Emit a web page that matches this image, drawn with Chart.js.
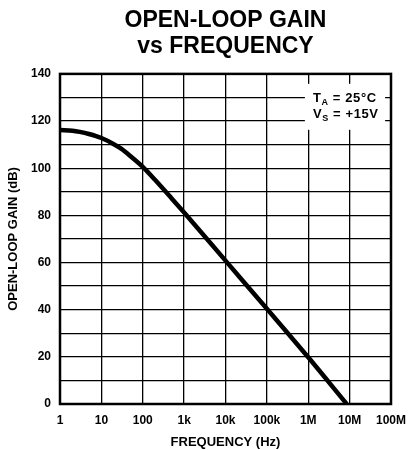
<!DOCTYPE html>
<html>
<head>
<meta charset="utf-8">
<script src="https://cdn.jsdelivr.net/npm/chart.js@4.4.1/dist/chart.umd.min.js"></script>
<style>
  body { margin: 0; background: #fff; }
</style>
</head>
<body>
<canvas id="gainChart" width="410" height="450"></canvas>
<script>
// values
const freqHz = [1, 2, 3, 5, 10, 20, 30, 50, 100, 200, 500, 1e3, 1e4, 1e5, 1e6, 8.5e6];
const gainDb = [116.2, 115.9, 115.4, 114.5, 112.8, 110.2, 108.3, 105.2, 100.6, 95, 87.2, 81.2, 60.8, 40.4, 19.8, 0];

const freqTicks = [1, 10, 100, 1e3, 1e4, 1e5, 1e6, 1e7, 1e8];
const freqLabels = ["1", "10", "100", "1k", "10k", "100k", "1M", "10M", "100M"];
const gainMin = 0;
const gainMax = 140;
const gainStep = 10;
const gainLabelStep = 20;

const noteLines = [
    { main: "T", sub: "A", rest: " = 25°C" },
    { main: "V", sub: "S", rest: " = +15V" }
];

const FONT = "'Liberation Sans', Arial, sans-serif";

// white box with test conditions, top right of plot
const notePlugin = {
    id: "note",
    afterDatasetsDraw(chart) {
        const ctx = chart.ctx;
        const x = chart.scales.x;
        const y = chart.scales.y;
        const left = x.getPixelForValue(8.3e5);
        const right = x.getPixelForValue(7.2e7);
        const top = y.getPixelForValue(135.8);
        const bottom = y.getPixelForValue(116.3);
        ctx.save();
        ctx.fillStyle = "#fff";
        ctx.fillRect(left, top, right - left, bottom - top);
        ctx.fillStyle = "#000";
        ctx.textBaseline = "alphabetic";
        ctx.letterSpacing = "0.6px";
        const tx = x.getPixelForValue(1.3e6);
        noteLines.forEach((ln, i) => {
            const by = y.getPixelForValue(i === 0 ? 128 : 121.1);
            let cx = tx;
            ctx.font = "bold 13px " + FONT;
            ctx.fillText(ln.main, cx, by);
            cx += ctx.measureText(ln.main).width;
            ctx.font = "bold 9px " + FONT;
            ctx.fillText(ln.sub, cx, by + 3);
            cx += ctx.measureText(ln.sub).width;
            ctx.font = "bold 13px " + FONT;
            ctx.fillText(ln.rest, cx, by);
        });
        ctx.restore();
    }
};

// heavy frame round the plot
const framePlugin = {
    id: "frame",
    afterDraw(chart) {
        const a = chart.chartArea;
        const ctx = chart.ctx;
        ctx.save();
        ctx.strokeStyle = "#000";
        ctx.lineWidth = 2.5;
        ctx.strokeRect(a.left, a.top, a.right - a.left, a.bottom - a.top);
        ctx.restore();
    }
};

const chart = new Chart(document.getElementById("gainChart"), {
    type: "line",
    data: {
        datasets: [{
            data: freqHz.map((f, i) => ({ x: f, y: gainDb[i] })),
            borderColor: "#000",
            borderWidth: 4.5,
            pointRadius: 0,
            cubicInterpolationMode: "monotone",
            fill: false
        }]
    },
    options: {
        responsive: false,
        animation: false,
        layout: { padding: { left: 0, right: 19, top: 0, bottom: 0 } },
        plugins: {
            legend: { display: false },
            tooltip: { enabled: false },
            title: {
                display: true,
                text: ["OPEN-LOOP GAIN", "vs FREQUENCY"],
                color: "#000",
                fullSize: false,
                font: { family: FONT, size: 23, weight: "bold", lineHeight: 1.15 },
                padding: { top: 7, bottom: 14 }
            }
        },
        scales: {
            x: {
                type: "logarithmic",
                min: freqTicks[0],
                max: freqTicks[freqTicks.length - 1],
                afterBuildTicks: (s) => { s.ticks = freqTicks.map(v => ({ value: v })); },
                afterFit: (s) => { s.height = 46; s.paddingLeft = 0; s.paddingRight = 0; },
                ticks: {
                    color: "#000",
                    autoSkip: false,
                    maxRotation: 0,
                    padding: 9,
                    font: { family: FONT, size: 12, weight: "bold" },
                    callback: (v) => freqLabels[freqTicks.indexOf(v)] ?? ""
                },
                grid: { color: "#000", lineWidth: 1.3, drawTicks: false },
                border: { display: false },
                title: {
                    display: true,
                    text: "FREQUENCY (Hz)",
                    color: "#000",
                    font: { family: FONT, size: 13, weight: "bold" },
                    padding: { top: 4, bottom: 0 }
                }
            },
            y: {
                min: gainMin,
                max: gainMax,
                afterFit: (s) => { s.width = 60; },
                ticks: {
                    stepSize: gainStep,
                    color: "#000",
                    padding: 9,
                    font: { family: FONT, size: 12, weight: "bold" },
                    callback: (v) => (v % gainLabelStep === 0 ? v : "")
                },
                grid: { color: "#000", lineWidth: 1.3, drawTicks: false },
                border: { display: false },
                title: {
                    display: true,
                    text: "OPEN-LOOP GAIN (dB)",
                    color: "#000",
                    font: { family: FONT, size: 13, weight: "bold" },
                    padding: { top: 6, bottom: 0 }
                }
            }
        }
    },
    plugins: [notePlugin, framePlugin]
});
</script>
</body>
</html>
